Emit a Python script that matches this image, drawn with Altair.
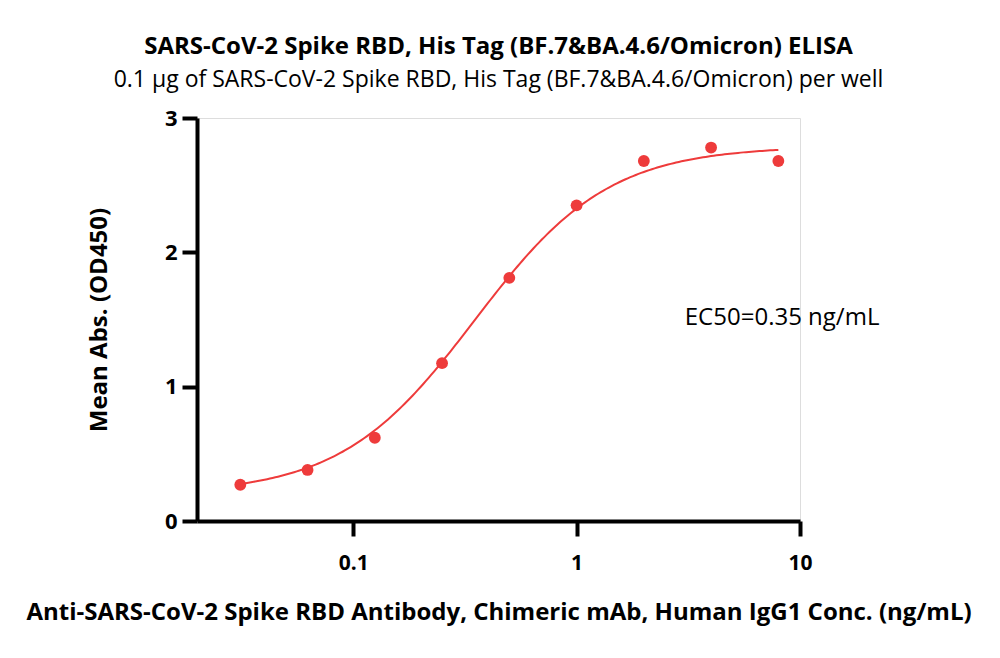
import altair as alt
import pandas as pd

# Measured data (concentration in ng/mL, mean OD450)
conc = [0.03125, 0.0625, 0.125, 0.25, 0.5, 1, 2, 4, 8]
od450 = [0.27, 0.38, 0.62, 1.175, 1.81, 2.35, 2.68, 2.78, 2.68]

# 4PL fit parameters (bottom, top, EC50, Hill slope)
fit_bottom = [0.20]
fit_top = [2.79]
fit_ec50 = [0.35]
fit_hill = [1.45]

x_ticks = [0.1, 1, 10]
y_ticks = [0, 1, 2, 3]

annot_text = ["EC50=0.35 ng/mL"]
annot_x = [3.05]
annot_y = [1.51]

FONT = "Open Sans"
RED = "#EE3B3B"

pts = pd.DataFrame({"conc": conc, "od": od450})
ann = pd.DataFrame({"x": annot_x, "y": annot_y, "t": annot_text})

xscale = alt.Scale(type="log", domain=[0.02, 10], nice=False)
yscale = alt.Scale(domain=[0, 3], nice=False)

xaxis = alt.Axis(values=x_ticks, format="~g", title="Anti-SARS-CoV-2 Spike RBD Antibody, Chimeric mAb, Human IgG1 Conc. (ng/mL)",
                 labelFont=FONT, labelFontSize=21, labelFontWeight="bold", labelColor="black", labelPadding=16,
                 labelFlush=False, labelOverlap=False,
                 titleFont=FONT, titleFontSize=24, titleFontWeight="bold", titleColor="black", titlePadding=27,
                 domainColor="black", domainWidth=4, tickColor="black", tickWidth=4, tickSize=15, grid=False)
yaxis = alt.Axis(values=y_ticks, format="d", title="Mean Abs. (OD450)",
                 labelFont=FONT, labelFontSize=22, labelFontWeight="bold", labelColor="black", labelPadding=5,
                 labelFlush=False, labelOverlap=False,
                 titleFont=FONT, titleFontSize=24, titleFontWeight="bold", titleColor="black", titlePadding=53,
                 domainColor="black", domainWidth=4, tickColor="black", tickWidth=4, tickSize=15, grid=False)

curve = alt.Chart(alt.sequence(start=0, stop=1.0001, step=0.005, as_="t")).transform_calculate(
    lx=f"log({conc[0]})/LN10 + datum.t*(log({conc[-1]})/LN10 - log({conc[0]})/LN10)"
).transform_calculate(
    conc="pow(10, datum.lx)"
).transform_calculate(
    od=f"{fit_bottom[0]} + ({fit_top[0]} - {fit_bottom[0]}) / (1 + pow({fit_ec50[0]} / datum.conc, {fit_hill[0]}))"
).mark_line(color=RED, strokeWidth=2).encode(
    x=alt.X("conc:Q", scale=xscale, axis=xaxis),
    y=alt.Y("od:Q", scale=yscale, axis=yaxis),
)

points = alt.Chart(pts).mark_circle(color=RED, size=140, opacity=1).encode(
    x=alt.X("conc:Q", scale=xscale),
    y=alt.Y("od:Q", scale=yscale),
)

label = alt.Chart(ann).mark_text(align="left", baseline="middle", font=FONT, fontSize=24, color="black").encode(
    x=alt.X("x:Q", scale=xscale),
    y=alt.Y("y:Q", scale=yscale),
    text="t:N",
)

chart = alt.layer(curve, points, label).properties(
    width=603,
    height=403,
    padding={"left": 189, "top": 110, "right": 190, "bottom": 127},
    autosize=alt.AutoSizeParams(type="none"),
    title=alt.TitleParams(
        text="SARS-CoV-2 Spike RBD, His Tag (BF.7&BA.4.6/Omicron) ELISA",
        subtitle="0.1 µg of SARS-CoV-2 Spike RBD, His Tag (BF.7&BA.4.6/Omicron) per well",
        font=FONT, fontSize=24, fontWeight="bold", color="black",
        subtitleFont=FONT, subtitleFontSize=23, subtitleColor="black", subtitlePadding=10,
        anchor="middle", offset=15,
    ),
).configure_view(stroke=None).configure(background="white")

chart.save("out.html", embed_options={"renderer": "svg", "actions": False})
